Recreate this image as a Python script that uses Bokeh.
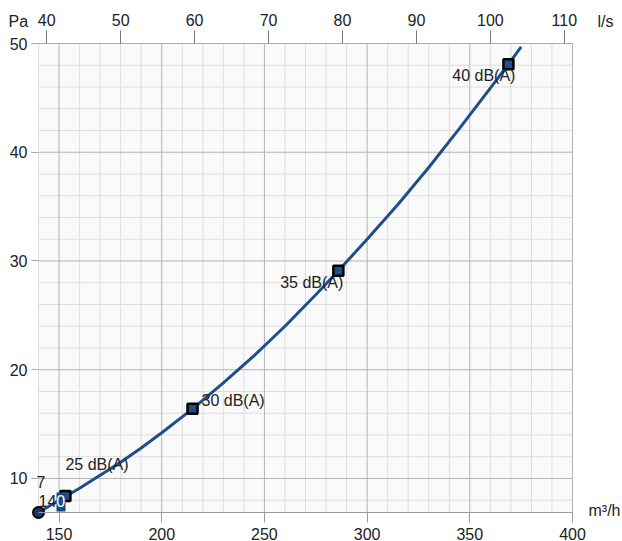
from bokeh.plotting import figure
from bokeh.models import Range1d, LinearAxis, FixedTicker, Label, ColumnDataSource
from bokeh.core.properties import value
from bokeh.embed import file_html
from bokeh.resources import INLINE

# Fan curve: air flow (m³/h) against pressure (Pa)
flow = [140, 150, 160, 170, 180, 190, 200, 215, 230, 245, 260, 275, 286,
        300, 315, 330, 345, 360, 368.8, 375]
pressure = [6.87, 8.0, 9.1, 10.3, 11.5, 12.8, 14.2, 16.4, 18.8, 21.3, 24.0, 26.9,
            29.1, 32.0, 35.2, 38.6, 42.2, 45.9, 48.1, 49.7]

# Sound level points along the curve
level_db = [25, 30, 35, 40]
level_flow = [153.1, 215.0, 286.0, 368.8]
level_pressure = [8.38, 16.4, 29.1, 48.1]

# Axis ticks
x_ticks = [150, 200, 250, 300, 350, 400]
x_minor = list(range(140, 401, 10))
y_ticks = [10, 20, 30, 40, 50]
y_minor = list(range(8, 51, 2))
ls_ticks = [40, 50, 60, 70, 80, 90, 100, 110]

FONT = "Liberation Sans"
TXT = "#222222"
BLUE = "#1f4f8a"
W, H = 622, 541

# chart area in data units and its place on the canvas (pixels)
x_min, x_max = 140, 400
y_min, y_max = 6.87, 50
left, right, top_px, bottom = 38, 572, 43, 512
kx = (x_max - x_min) / (right - left)
ky = (y_max - y_min) / (bottom - top_px)


def cx(px):
    return x_min + (px - left) * kx


def cy(py):
    return y_max - (py - top_px) * ky


p = figure(width=W, height=H, x_range=Range1d(cx(0), cx(W)),
           y_range=Range1d(cy(H), cy(0)), output_backend="svg",
           toolbar_location=None, min_border=0)
p.background_fill_color = "white"
p.border_fill_color = "white"
p.outline_line_color = None
p.xaxis.visible = False
p.yaxis.visible = False
p.grid.visible = False

# chart background and grid
p.quad(left=[x_min], right=[x_max], bottom=[y_min], top=[y_max],
       fill_color="#fafafa", line_color=None)
vx = [v for v in x_minor if v not in x_ticks]
hy = [v for v in y_minor if v not in y_ticks]
p.segment(x0=vx, x1=vx, y0=[y_min] * len(vx), y1=[y_max] * len(vx),
          line_color="#dedede", line_width=1)
p.segment(x0=[x_min] * len(hy), x1=[x_max] * len(hy), y0=hy, y1=hy,
          line_color="#dedede", line_width=1)
p.segment(x0=x_ticks, x1=x_ticks, y0=[y_min] * len(x_ticks),
          y1=[y_max] * len(x_ticks), line_color="#b4b4b4", line_width=1)
p.segment(x0=[x_min] * len(y_ticks), x1=[x_max] * len(y_ticks), y0=y_ticks,
          y1=y_ticks, line_color="#b4b4b4", line_width=1)


def style(ax, tick_out, standoff, tick_color, line_color):
    ax.axis_line_color = line_color
    ax.major_tick_line_color = tick_color
    ax.major_tick_out = tick_out
    ax.major_tick_in = 0
    ax.minor_tick_line_color = None
    ax.major_label_standoff = standoff
    ax.major_label_text_font = FONT
    ax.major_label_text_font_size = "16px"
    ax.major_label_text_color = TXT


# bottom axis (m³/h)
xa = LinearAxis(ticker=FixedTicker(ticks=x_ticks), fixed_location=y_min,
                bounds=(x_min, x_max))
style(xa, 10, 5, "#999999", "#999999")
p.add_layout(xa, "below")

# left axis (Pa)
ya = LinearAxis(ticker=FixedTicker(ticks=y_ticks), fixed_location=x_min,
                bounds=(y_min, y_max))
style(ya, 7, 4, "#aaaaaa", None)
p.add_layout(ya, "left")

# top axis (l/s)
p.extra_x_ranges = {"ls": Range1d(cx(0) / 3.6, cx(W) / 3.6)}
ta = LinearAxis(x_range_name="ls", ticker=FixedTicker(ticks=ls_ticks),
                fixed_location=y_max, bounds=(x_min / 3.6, x_max / 3.6))
style(ta, 13, 5, "#777777", "#aaaaaa")
p.add_layout(ta, "above")

# curve
p.line(flow, pressure, line_color=BLUE, line_width=3)

# sound level markers
src = ColumnDataSource(dict(
    x=level_flow, y=level_pressure,
    label=[f"{d} dB(A)" for d in level_db],
    align=["left", "left", "right", "right"],
    dx=[0, 9, 5, 7], dy=[-32, -8, 12, 11],
))
p.scatter("x", "y", source=src, marker="x", size=15, line_color="black",
          line_width=1.5)
p.scatter("x", "y", source=src, marker="square", size=10, fill_color=BLUE,
          line_color="black", line_width=2.5)
p.text("x", "y", text="label", source=src, text_align="align",
       text_baseline="middle", x_offset="dx", y_offset="dy",
       text_font=value(FONT), text_font_size="16px", text_color=TXT)

# start point
p.scatter([flow[0]], [pressure[0]], marker="circle", size=11,
          fill_color="#1d3a66", line_color="black", line_width=2)


def label(text, px, py, color=TXT):
    p.add_layout(Label(x=cx(px), y=cy(py), text=text, text_font=FONT,
                       text_font_size="16px", text_color=color,
                       text_baseline="middle"))


# readout of the start point
label(f"{round(pressure[0])}", 36, 481)
label(f"{x_min}"[:2], 38, 500)
p.quad(left=[cx(56)], right=[cx(65)], bottom=[cy(511)], top=[cy(492)],
       fill_color="#174a84", line_color=None, level="overlay")
p.text(x=[cx(55.8)], y=[cy(500)], text=[f"{x_min}"[2:]], level="overlay",
       text_baseline="middle", text_font=value(FONT), text_font_size="16px",
       text_color="white")

# unit captions
label("Pa", 8, 21)
label("l/s", 597, 21)
label("m³/h", 588, 510)

open("out.html", "w").write(file_html(p, INLINE))
